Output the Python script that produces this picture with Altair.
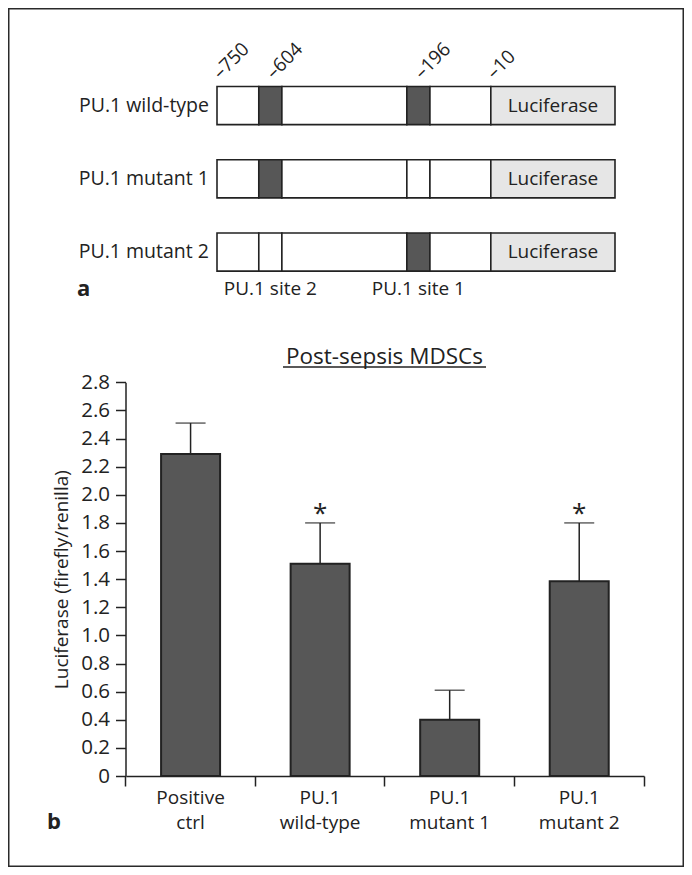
import altair as alt
import pandas as pd

# ---------------- Panel a: reporter constructs ----------------
constructs = ["PU.1 wild-type", "PU.1 mutant 1", "PU.1 mutant 2"]
region_names = ["upstream", "site 2", "spacer", "site 1", "proximal", "Luciferase"]
region_start = [0, 10.5, 16.3, 47.7, 53.5, 68.8]
region_end = [10.5, 16.3, 47.7, 53.5, 68.8, 100]
site2_intact = [True, True, False]
site1_intact = [True, False, True]
coord_labels = ["–750", "–604", "–196", "–10"]
coord_pos = [0, 13.4, 50.6, 68.8]
site_labels = ["PU.1 site 2", "PU.1 site 1"]
site_pos = [13.4, 50.6]

# ---------------- Panel b: luciferase activity ----------------
groups = ["Positive ctrl", "PU.1 wild-type", "PU.1 mutant 1", "PU.1 mutant 2"]
means = [2.29, 1.51, 0.40, 1.385]
errors = [0.22, 0.29, 0.21, 0.415]
signif = ["", "*", "", "*"]
y_ticks = [0, 0.2, 0.4, 0.6, 0.8, 1.0, 1.2, 1.4, 1.6, 1.8, 2.0, 2.2, 2.4, 2.6, 2.8]
panel_title = "Post-sepsis MDSCs"
y_title = "Luciferase (firefly/renilla)"

FONT = "Open Sans"
INK = "#222222"
FS = 19
W, H = 676, 859

# ---- panel a data ----
seg_rows = []
for ci, c in enumerate(constructs):
    for rn, s, e in zip(region_names, region_start, region_end):
        if rn == "Luciferase":
            kind = "luc"
        elif rn == "site 2":
            kind = "site" if site2_intact[ci] else "blank"
        elif rn == "site 1":
            kind = "site" if site1_intact[ci] else "blank"
        else:
            kind = "blank"
        seg_rows.append({"construct": c, "region": rn, "start": s, "end": e, "kind": kind})
seg_df = pd.DataFrame(seg_rows)
luc_df = pd.DataFrame({"construct": constructs,
                       "mid": [(region_start[-1] + region_end[-1]) / 2] * len(constructs),
                       "label": ["Luciferase"] * len(constructs)})
coord_df = pd.DataFrame({"pos": coord_pos, "label": coord_labels})
site_df = pd.DataFrame({"pos": site_pos, "label": site_labels})
row_df = pd.DataFrame({"construct": constructs})

xa = alt.Scale(domain=[0, 100], range=[209, 607])
ya = alt.Scale(domain=constructs, range=[78.5, 263.1], paddingInner=0.48, paddingOuter=0)

segs = alt.Chart(seg_df).mark_rect(stroke=INK, strokeWidth=1.6).encode(
    x=alt.X("start:Q", scale=xa, axis=None),
    x2="end:Q",
    y=alt.Y("construct:N", scale=ya, axis=None),
    fill=alt.Fill("kind:N", scale=alt.Scale(domain=["blank", "site", "luc"],
                                             range=["#ffffff", "#575757", "#e6e6e6"]), legend=None),
)
luc_text = alt.Chart(luc_df).mark_text(font=FONT, fontSize=FS, color=INK).encode(
    x=alt.X("mid:Q", scale=xa, axis=None),
    y=alt.Y("construct:N", scale=ya, axis=None),
    text="label:N",
)
row_text = alt.Chart(row_df).mark_text(font=FONT, fontSize=19.5, color=INK, align="right").encode(
    x=alt.value(201),
    y=alt.Y("construct:N", scale=ya, axis=None),
    text="construct:N",
)
coord_text = alt.Chart(coord_df).mark_text(font=FONT, fontSize=FS, color=INK, align="left",
                                           baseline="alphabetic", angle=315, dx=2.5, dy=2.5).encode(
    x=alt.X("pos:Q", scale=xa, axis=None),
    y=alt.value(72),
    text="label:N",
)
site_text = alt.Chart(site_df).mark_text(font=FONT, fontSize=FS, color=INK, baseline="middle").encode(
    x=alt.X("pos:Q", scale=xa, axis=None),
    y=alt.value(281),
    text="label:N",
)
a_text = alt.Chart(pd.DataFrame({"t": ["a"]})).mark_text(
    font=FONT, fontSize=22, fontWeight="bold", color=INK, align="left", baseline="middle").encode(
    x=alt.value(69), y=alt.value(281), text="t:N")

panel_a = alt.layer(segs, luc_text, row_text, coord_text, site_text, a_text)

# ---- panel b data ----
bar_df = pd.DataFrame({"group": groups, "mean": means, "err": errors, "sig": signif})
bar_df["upper"] = bar_df["mean"] + bar_df["err"]

xb = alt.Scale(domain=groups, range=[117.8, 636], paddingInner=0, paddingOuter=0)
yb = alt.Scale(domain=[0, 2.8], range=[768, 374.3], nice=False, zero=True)

label_expr = ("[slice(datum.label, 0, indexof(datum.label, ' ')), "
              "slice(datum.label, indexof(datum.label, ' ') + 1)]")

bars = alt.Chart(bar_df).mark_bar(size=59, fill="#575757", stroke=INK, strokeWidth=2).encode(
    x=alt.X("group:N", scale=xb, sort=groups,
            axis=alt.Axis(title=None, orient="bottom", offset=-(H - 768), labelAngle=0,
                          labelExpr=label_expr, labelFont=FONT, labelFontSize=FS,
                          labelColor=INK, labelLineHeight=25, labelPadding=2,
                          labelBaseline="top",
                          bandPosition=1, tickExtra=True, tickSize=10, tickColor=INK,
                          tickWidth=1.5, domainColor=INK, domainWidth=1.5)),
    y=alt.Y("mean:Q", scale=yb,
            axis=alt.Axis(title=y_title, orient="left", offset=-117.5, values=y_ticks,
                          labelExpr="datum.value == 0 ? '0' : format(datum.value, '.1f')",
                          labelFont=FONT, labelFontSize=20.5, labelColor=INK, labelPadding=6,
                          tickSize=10, tickColor=INK, tickWidth=1.5,
                          domainColor=INK, domainWidth=1.5, grid=False,
                          titleFont=FONT, titleFontSize=FS, titleFontWeight="normal",
                          titleColor=INK, titlePadding=9)),
)
err_rule = alt.Chart(bar_df).mark_rule(color=INK, strokeWidth=1.5).encode(
    x=alt.X("group:N", scale=xb, sort=groups),
    y=alt.Y("mean:Q", scale=yb),
    y2="upper:Q",
)
err_cap = alt.Chart(bar_df).mark_tick(color=INK, size=30, thickness=1.5).encode(
    x=alt.X("group:N", scale=xb, sort=groups),
    y=alt.Y("upper:Q", scale=yb),
)
stars = alt.Chart(bar_df).mark_text(font=FONT, fontSize=26, color=INK, baseline="alphabetic",
                                    dy=-1).encode(
    x=alt.X("group:N", scale=xb, sort=groups),
    y=alt.Y("upper:Q", scale=yb),
    text="sig:N",
)
title_text = alt.Chart(pd.DataFrame({"t": [panel_title]})).mark_text(
    font=FONT, fontSize=22.5, fontWeight=500, color=INK, align="center", baseline="alphabetic").encode(
    x=alt.value(376.5), y=alt.value(356), text="t:N")
title_line = alt.Chart(pd.DataFrame({"t": [panel_title]})).mark_rule(color=INK, strokeWidth=1.5).encode(
    x=alt.value(275), x2=alt.value(478), y=alt.value(359))
b_text = alt.Chart(pd.DataFrame({"t": ["b"]})).mark_text(
    font=FONT, fontSize=22, fontWeight="bold", color=INK, align="left", baseline="middle").encode(
    x=alt.value(39), y=alt.value(814), text="t:N")

panel_b = alt.layer(bars, err_rule, err_cap, stars, title_text, title_line, b_text)

chart = alt.layer(panel_a, panel_b).resolve_scale(
    x="independent", y="independent"
).properties(
    width=W, height=H, padding=0, autosize=alt.AutoSizeParams(type="none"),
    background="white",
).configure_view(stroke="#2a2a2a", strokeWidth=3)

chart.save("out.html", embed_options={"renderer": "svg", "actions": False})
